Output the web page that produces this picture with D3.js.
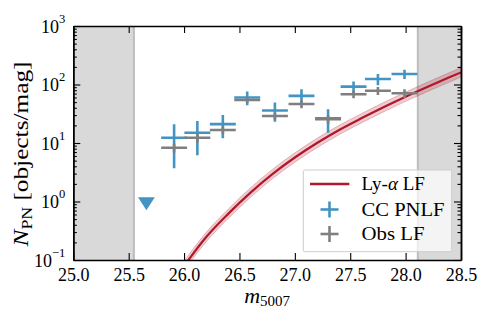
<!DOCTYPE html>
<html>
<head>
<meta charset="utf-8">
<script src="https://cdn.jsdelivr.net/npm/d3@7"></script>
<style>
  html, body { margin: 0; padding: 0; background: #fff; }
  svg { display: block; }
</style>
</head>
<body>
<svg id="chart" width="479" height="311"></svg>
<script>
// ---------------- data ----------------
const xDomain = [25.0, 28.5];
const yDomain = [0.1, 1000];
const xTickValues = [25.0, 25.5, 26.0, 26.5, 27.0, 27.5, 28.0, 28.5];
const yTickValues = [0.1, 1, 10, 100, 1000];
const yTickExponents = ["\u22121", "0", "1", "2", "3"];

// masked (shaded) magnitude ranges
const maskLeft = [25.0, 25.547];
const maskRight = [28.11, 28.5];

// binned luminosity functions
const binCentres = [25.91, 26.12, 26.35, 26.57, 26.82, 27.06, 27.30, 27.53, 27.75, 27.99];
const binHalfWidth = 0.117;
const ccPNLF = [12.3, 15.0, 21.0, 60.0, 36.0, 64.0, 26.4, 92.0, 124.0, 151.0];
const ccPNLFErr = [8.6, 8.8, 9.0, 16.0, 13.0, 19.0, 11.5, 20.0, 27.0, 27.0];
const obsLF = [8.3, 12.3, 16.7, 54.3, 29.0, 46.4, 25.4, 68.0, 78.4, 70.7];
const obsLFErr = [1.4, 2.2, 2.5, 6.0, 4.0, 7.0, 4.0, 10.0, 12.0, 12.0];

// upper limit
const limitM = [25.66];
const limitN = [1.0];

// Ly-alpha LF curve and its band
const lyaM  = [26.0, 26.2, 26.4, 26.6, 26.8, 27.0, 27.2, 27.4, 27.6, 27.8, 28.0, 28.2, 28.4, 28.5];
const lyaN  = [0.079, 0.247, 0.62, 1.42, 2.97, 5.65, 10.0, 16.7, 26.4, 40.9, 61.9, 91.6, 134, 161];
const lyaLo = [0.066, 0.205, 0.516, 1.18, 2.47, 4.70, 8.32, 13.9, 22.0, 34.0, 51.5, 76.2, 111, 134];
const lyaHi = [0.095, 0.297, 0.745, 1.71, 3.57, 6.79, 12.0, 20.1, 31.7, 49.2, 74.4, 110, 161, 194];

const legendLabels = ["Ly-", "CC PNLF", "Obs LF"];

// ---------------- layout & style ----------------
const FONT = "Liberation Serif";
const plot = { left: 73.3, right: 461, top: 26, bottom: 260 };
const C = {
  blue: "#4393c3", gray: "#7f7f7f", red: "#b2182b", band: "#b2182b",
  mask: "#d9d9d9", maskEdge: "#bdbdbd"
};

const svg = d3.select("#chart").attr("font-family", FONT);
const x = d3.scaleLinear().domain(xDomain).range([plot.left, plot.right]);
const y = d3.scaleLog().domain(yDomain).range([plot.bottom, plot.top]);

svg.append("defs").append("clipPath").attr("id", "clip")
  .append("rect")
  .attr("x", plot.left).attr("y", plot.top)
  .attr("width", plot.right - plot.left).attr("height", plot.bottom - plot.top);

const g = svg.append("g").attr("clip-path", "url(#clip)");

// shaded masks
[maskLeft, maskRight].forEach(r => {
  g.append("rect")
    .attr("x", x(r[0])).attr("y", plot.top)
    .attr("width", x(r[1]) - x(r[0])).attr("height", plot.bottom - plot.top)
    .attr("fill", C.mask);
});
g.append("line").attr("x1", x(maskLeft[1])).attr("x2", x(maskLeft[1]))
  .attr("y1", plot.top).attr("y2", plot.bottom)
  .attr("stroke", C.maskEdge).attr("stroke-width", 2);
g.append("line").attr("x1", x(maskRight[0])).attr("x2", x(maskRight[0]))
  .attr("y1", plot.top).attr("y2", plot.bottom)
  .attr("stroke", C.maskEdge).attr("stroke-width", 2);

// Ly-alpha band and line
const bandData = lyaM.map((m, i) => ({ m, lo: lyaLo[i], hi: lyaHi[i] }));
g.append("path").datum(bandData)
  .attr("d", d3.area().x(d => x(d.m)).y0(d => y(d.lo)).y1(d => y(d.hi)).curve(d3.curveMonotoneX))
  .attr("fill", C.band).attr("fill-opacity", 0.22)
  .attr("stroke", C.band).attr("stroke-opacity", 0.25).attr("stroke-width", 1);
const lineData = lyaM.map((m, i) => ({ m, n: lyaN[i] }));
g.append("path").datum(lineData)
  .attr("d", d3.line().x(d => x(d.m)).y(d => y(d.n)).curve(d3.curveMonotoneX))
  .attr("fill", "none").attr("stroke", C.red).attr("stroke-width", 2.2);

// error-bar crosses
function crosses(vals, errs, color) {
  const grp = g.append("g").attr("stroke", color).attr("stroke-width", 2.6).attr("stroke-linecap", "butt");
  binCentres.forEach((m, i) => {
    grp.append("line")
      .attr("x1", x(m - binHalfWidth)).attr("x2", x(m + binHalfWidth))
      .attr("y1", y(vals[i])).attr("y2", y(vals[i]));
    grp.append("line")
      .attr("x1", x(m)).attr("x2", x(m))
      .attr("y1", y(Math.max(vals[i] - errs[i], 0.01))).attr("y2", y(vals[i] + errs[i]));
  });
}
crosses(ccPNLF, ccPNLFErr, C.blue);
crosses(obsLF, obsLFErr, C.gray);

// upper limit marker
const tri = d3.symbol().type(d3.symbolTriangle).size(110);
limitM.forEach((m, i) => {
  g.append("path")
    .attr("d", tri())
    .attr("transform", `translate(${x(m)},${y(limitN[i])}) rotate(180) scale(1.05,0.95)`)
    .attr("fill", C.blue);
});

// ---------------- legend ----------------
const lg = svg.append("g").attr("font-family", FONT);
lg.append("rect").attr("x", 303.3).attr("y", 170).attr("width", 148.4).attr("height", 81.7)
  .attr("rx", 1.5)
  .attr("fill", "#fff").attr("fill-opacity", 0.7)
  .attr("stroke", "#cccccc").attr("stroke-width", 1);
const rowsY = [184, 209.5, 234];
lg.append("line").attr("x1", 310).attr("x2", 349.3).attr("y1", rowsY[0]).attr("y2", rowsY[0])
  .attr("stroke", C.red).attr("stroke-width", 2.4);
[[C.blue, rowsY[1]], [C.gray, rowsY[2]]].forEach(([col, yy]) => {
  lg.append("line").attr("x1", 320.5).attr("x2", 338.5).attr("y1", yy).attr("y2", yy)
    .attr("stroke", col).attr("stroke-width", 2.6);
  lg.append("line").attr("x1", 329.5).attr("x2", 329.5).attr("y1", yy - 8).attr("y2", yy + 8)
    .attr("stroke", col).attr("stroke-width", 2.6);
});
const t0 = lg.append("text").attr("x", 361.5).attr("y", rowsY[0] + 6).attr("font-size", 19);
t0.append("tspan").text(legendLabels[0]);
t0.append("tspan").attr("font-style", "italic").text("\u03b1");
t0.append("tspan").text(" LF");
lg.append("text").attr("x", 361.5).attr("y", rowsY[1] + 6).attr("font-size", 19)
  .attr("textLength", 83).attr("lengthAdjust", "spacingAndGlyphs").text(legendLabels[1]);
lg.append("text").attr("x", 361.5).attr("y", rowsY[2] + 6).attr("font-size", 19)
  .attr("textLength", 63).attr("lengthAdjust", "spacingAndGlyphs").text(legendLabels[2]);

// ---------------- axes ----------------
function styleAxis(sel) {
  sel.attr("font-family", FONT);
  sel.select(".domain").attr("stroke", "#000").attr("stroke-width", 1.5);
  sel.selectAll(".tick line").attr("stroke", "#000").attr("stroke-width", 1.1);
}
const yMinor = [];
for (let e = -1; e < 3; e++) for (let k = 2; k <= 9; k++) yMinor.push(k * Math.pow(10, e));

// bottom
const ax = svg.append("g").attr("transform", `translate(0,${plot.bottom})`)
  .call(d3.axisBottom(x).tickValues(xTickValues).tickFormat(d3.format(".1f"))
    .tickSizeInner(-7).tickSizeOuter(0).tickPadding(8));
styleAxis(ax);
ax.attr("font-size", 18);
ax.selectAll(".tick text").attr("font-size", 18).attr("font-family", FONT).attr("fill", "#000");
// top
const axT = svg.append("g").attr("transform", `translate(0,${plot.top})`)
  .call(d3.axisTop(x).tickValues(xTickValues).tickFormat("").tickSizeInner(-7).tickSizeOuter(0));
styleAxis(axT);
// left major
const ayL = svg.append("g").attr("transform", `translate(${plot.left},0)`)
  .call(d3.axisLeft(y).tickValues(yTickValues).tickFormat("").tickSizeInner(-7).tickSizeOuter(0));
styleAxis(ayL);
ayL.attr("font-size", 18);
ayL.selectAll(".tick").each(function(d, i) {
  const t = d3.select(this).append("text").attr("text-anchor", "end").attr("x", -8).attr("y", 6)
    .attr("font-size", 18).attr("font-family", FONT).attr("fill", "#000");
  t.append("tspan").text("10");
  t.append("tspan").attr("font-size", 12.6).attr("dy", -10).text(yTickExponents[i]);
});
const ayLm = svg.append("g").attr("transform", `translate(${plot.left},0)`)
  .call(d3.axisLeft(y).tickValues(yMinor).tickFormat("").tickSizeInner(-3.5).tickSizeOuter(0));
styleAxis(ayLm);
// right
const ayR = svg.append("g").attr("transform", `translate(${plot.right},0)`)
  .call(d3.axisRight(y).tickValues(yTickValues).tickFormat("").tickSizeInner(-7).tickSizeOuter(0));
styleAxis(ayR);
const ayRm = svg.append("g").attr("transform", `translate(${plot.right},0)`)
  .call(d3.axisRight(y).tickValues(yMinor).tickFormat("").tickSizeInner(-3.5).tickSizeOuter(0));
styleAxis(ayRm);

// axis labels
const xl = svg.append("text").attr("x", (plot.left + plot.right) / 2).attr("y", 303)
  .attr("text-anchor", "middle").attr("font-size", 22).attr("font-family", FONT);
xl.append("tspan").attr("font-style", "italic").text("m");
xl.append("tspan").attr("font-size", 15).attr("dy", 3).text("5007");

const yl = svg.append("text")
  .attr("transform", `translate(28,154) rotate(-90)`)
  .attr("text-anchor", "middle").attr("font-size", 20).attr("font-family", FONT)
  .attr("textLength", 185).attr("lengthAdjust", "spacingAndGlyphs");
yl.append("tspan").attr("font-style", "italic").text("N");
yl.append("tspan").attr("font-size", 14).attr("dy", 4).text("PN");
yl.append("tspan").attr("dy", -4).text(" [objects/mag]");
</script>
</body>
</html>
